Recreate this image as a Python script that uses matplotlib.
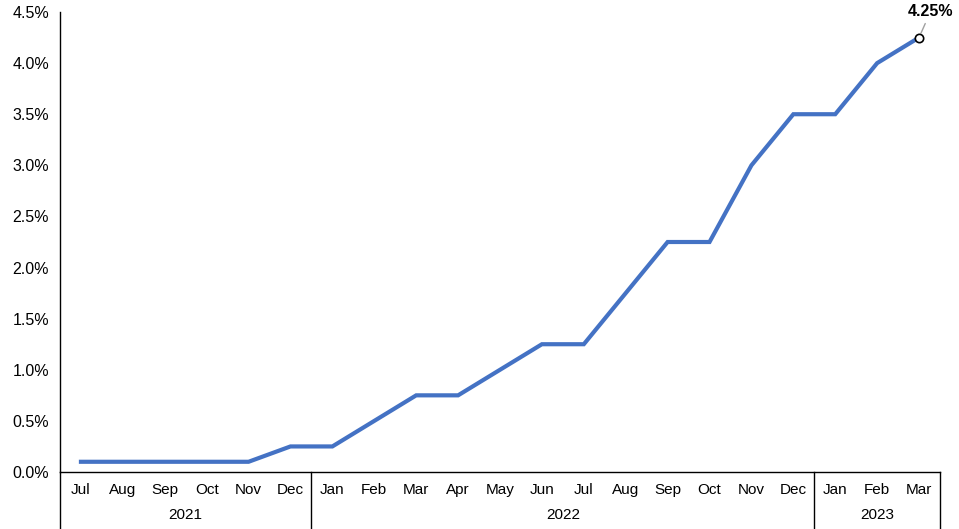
import numpy as np
import matplotlib
matplotlib.use("Agg")
import matplotlib.pyplot as plt
import matplotlib.transforms as mtransforms

plt.rcParams['font.family'] = ['Liberation Sans', 'DejaVu Sans']

months = ['Jul', 'Aug', 'Sep', 'Oct', 'Nov', 'Dec',
          'Jan', 'Feb', 'Mar', 'Apr', 'May', 'Jun', 'Jul', 'Aug', 'Sep', 'Oct', 'Nov', 'Dec',
          'Jan', 'Feb', 'Mar']
years = ['2021', '2022', '2023']
year_counts = [6, 12, 3]
rates = [0.10, 0.10, 0.10, 0.10, 0.10, 0.25,
         0.25, 0.50, 0.75, 0.75, 1.00, 1.25, 1.25, 1.75, 2.25, 2.25, 3.00, 3.50,
         3.50, 4.00, 4.25]

W, H = 959, 529
fig = plt.figure(figsize=(W / 100, H / 100), dpi=100)
ax = fig.add_axes([60 / W, 57 / H, (940 - 60) / W, (472 - 12) / H])

x = np.arange(len(months))
ax.plot(x, rates, color='#4472C4', lw=3, solid_joinstyle='miter', zorder=3)

# last point marker + label
ax.plot(x[-1], rates[-1], 'o', ms=6, mfc='white', mec='black', mew=1.2, zorder=4)
ax.annotate(f'{rates[-1]:.2f}%', xy=(x[-1], rates[-1]), xytext=(x[-1] + 0.27, 4.5),
            ha='center', va='center', fontsize=11.5, fontweight='bold',
            arrowprops=dict(arrowstyle='-', color='#A0A0A0', lw=1, shrinkA=1, shrinkB=3.5),
            annotation_clip=False)

ax.set_xlim(-0.5, len(months) - 0.5)
ax.set_ylim(0, 4.5)
ax.set_yticks(np.arange(0, 4.51, 0.5))
ax.set_yticklabels([f'{v:.1f}%' for v in np.arange(0, 4.51, 0.5)], fontsize=11.5)
ax.tick_params(axis='y', length=0, pad=8)
ax.set_xticks(x)
ax.set_xticklabels(months, fontsize=11)
ax.tick_params(axis='x', length=0, pad=8)

for s in ['top', 'right']:
    ax.spines[s].set_visible(False)
for s in ['left', 'bottom']:
    ax.spines[s].set_color('black')
    ax.spines[s].set_linewidth(1)

# year grouping below axis
trans = mtransforms.blended_transform_factory(ax.transData, ax.transAxes)
bottom = -57 / 460
bounds = np.concatenate([[0], np.cumsum(year_counts)]) - 0.5
for b in bounds:
    ax.plot([b, b], [0, bottom], color='black', lw=1, transform=trans, clip_on=False)
for i, yr in enumerate(years):
    mid = (bounds[i] + bounds[i + 1]) / 2
    ax.text(mid, -43 / 460, yr, transform=trans, ha='center', va='center', fontsize=11)

fig.savefig('out.png', dpi=100)
